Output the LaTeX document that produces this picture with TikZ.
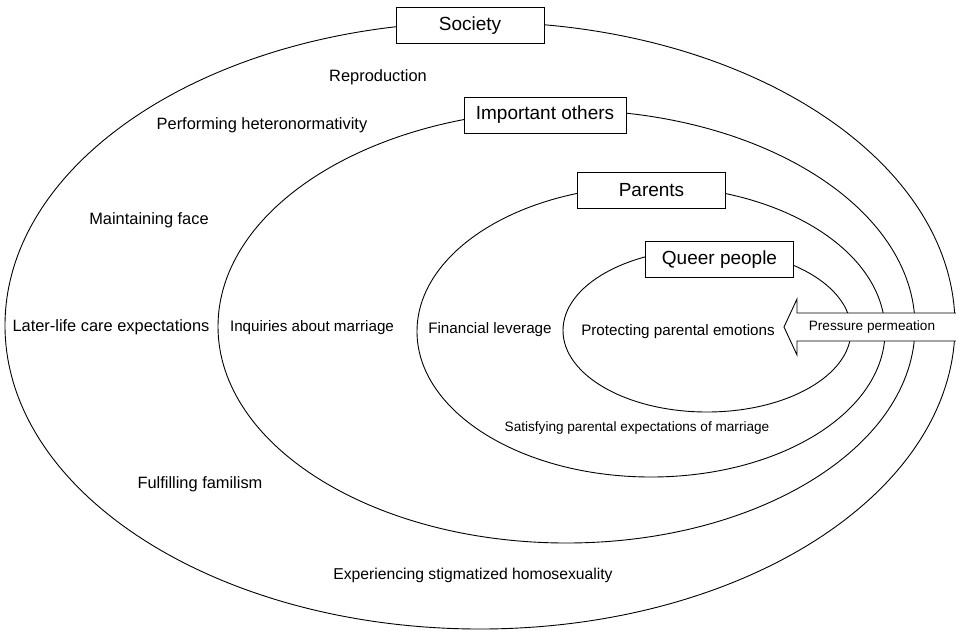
\documentclass[tikz,border=0pt]{standalone}
\usepackage{fontspec}
\setmainfont{Liberation Sans}
\usepackage{tikz}

\tikzset{
  ring/.style={black, line width=0.9pt},
  title/.style={draw=black, line width=0.9pt, fill=white, minimum width=148pt, minimum height=36pt, inner xsep=11pt, font=\fontsize{19}{22}\selectfont},
  lab/.style={font=\fontsize{16.4}{19}\selectfont},
  labm/.style={font=\fontsize{15.2}{18}\selectfont},
  labs/.style={font=\fontsize{13.6}{16}\selectfont}
}

\begin{document}
\begin{tikzpicture}[x=1pt,y=-1pt]
\tikzstyle{every node}+=[inner sep=0pt]
\clip (0,0) rectangle (956,630);
\draw [ring] (480,325.5) ellipse [x radius=475pt, y radius=303.5pt];
\draw [ring] (566.5,326.5) ellipse [x radius=348.5pt, y radius=216.5pt];
\draw [ring] (651,331.5) ellipse [x radius=234pt, y radius=145.5pt];
\draw [ring] (707,330.5) ellipse [x radius=144pt, y radius=81.5pt];
\draw (470,25.5) node [title] (society) {Society};
\draw (545,115) node [title, minimum width=162pt] (others) {Important others};
\draw (651.5,190) node [title] (parents) {Parents};
\draw (719.5,259.5) node [title] (queer) {Queer people};
\draw (378,77) node [lab] (repro) {Reproduction};
\draw (262,125) node [lab] (hetero) {Performing heteronormativity};
\draw (149,220) node [lab] (face) {Maintaining face};
\draw (111,327) node [lab] (care) {Later-life care expectations};
\draw (200,484) node [lab] (familism) {Fulfilling familism};
\draw (473,575) node [lab, font=\fontsize{15.7}{18}\selectfont] (stigma) {Experiencing stigmatized homosexuality};
\draw (312,328) node [labm] (inquiry) {Inquiries about marriage};
\draw (490,330) node [labm] (money) {Financial leverage};
\draw (678,332) node [labm] (protect) {Protecting parental emotions};
\draw (637,428) node [labs] (satisfy) {Satisfying parental expectations of marriage};
\coordinate (tip) at (784,327);
\draw [ring, fill=white] (tip) -- (797,299) -- (797,313) -- (970,313) -- (970,341) -- (797,341) -- (797,355) -- cycle;
\draw (872,327) node [labs] (press) {Pressure permeation};
\end{tikzpicture}
\end{document}
